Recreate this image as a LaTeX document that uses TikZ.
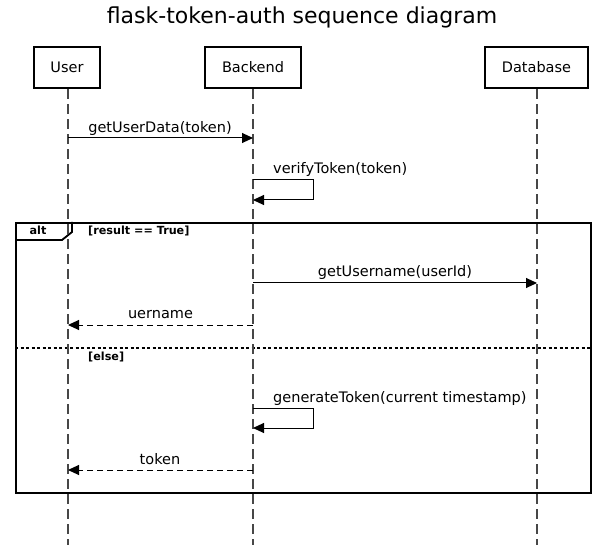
\documentclass[tikz,border=0pt]{standalone}
\usepackage{fontspec}
\setmainfont{DejaVu Sans}
\usetikzlibrary{arrows.meta}
\tikzset{
  lbl/.style={font=\fontsize{14.5}{17}\selectfont, inner sep=0pt, anchor=base},
  msg/.style={line width=1pt, -{Triangle[length=11pt,width=10pt]}},
  ret/.style={msg, dash pattern=on 6pt off 4pt},
  life/.style={line width=1.2pt, black!72, dash pattern=on 10pt off 5pt},
  part/.style={draw, line width=2.6pt, inner sep=0pt, minimum height=41pt,
    font=\fontsize{14.5}{17}\selectfont},
  guard/.style={font=\bfseries\fontsize{11.2}{13}\selectfont, inner sep=0pt, anchor=base west},
  frame/.style={draw, line width=2.2pt, inner sep=0pt, anchor=north west}
}
\begin{document}
\begin{tikzpicture}[x=1pt,y=-1pt]
\useasboundingbox (0,0) rectangle (605,545);
\node[font=\fontsize{22}{26}\selectfont, inner sep=0pt, anchor=base] (title) at (302,23.5) {flask-token-auth sequence diagram};

% lifeline end coordinates
\coordinate (ubot) at (68,545);
\coordinate (bbot) at (253,545);
\coordinate (dbot) at (537,545);

% alt frame
\node[frame, minimum width=575pt, minimum height=270pt] (alt) at (15,222) {};
\draw[line width=1.8pt] (15,240) -- (62,240) -- (72,232) -- (72,222);
\node[guard, anchor=base] (altlbl) at (38,235) {alt};
\node[guard] (g1) at (88,235) {[result == True]};
\coordinate (sepL) at (15,348);
\coordinate (sepR) at (590,348);
\draw[line width=2pt, dash pattern=on 3pt off 2.5pt] (sepL) -- (sepR);
\node[guard] (g2) at (88,360) {[else]};

% participants
\node[part, minimum width=66pt] (user) at (67,67.5) {User};
\node[part, minimum width=96pt] (backend) at (253,67.5) {Backend};
\node[part, minimum width=103pt] (database) at (536.5,67.5) {Database};

\draw[life] (user.south -| ubot) -- (ubot);
\draw[life] (backend.south -| bbot) -- (bbot);
\draw[life] (database.south -| dbot) -- (dbot);

% messages
\coordinate (m1a) at (68,138); \coordinate (m1b) at (253,138);
\draw[msg] (m1a) -- (m1b);
\node[lbl] (l1) at (160,132.5) {getUserData(token)};

\coordinate (m2a) at (253,180); \coordinate (m2b) at (253,200);
\draw[msg] (m2a) -- ++(60,0) |- (m2b);
\node[lbl, anchor=base west] (l2) at (273,174) {verifyToken(token)};

\coordinate (m3a) at (253,283); \coordinate (m3b) at (537,283);
\draw[msg] (m3a) -- (m3b);
\node[lbl] (l3) at (395,276.5) {getUsername(userId)};

\coordinate (m4a) at (253,325); \coordinate (m4b) at (68,325);
\draw[ret] (m4a) -- (m4b);
\node[lbl] (l4) at (160.5,319) {uername};

\coordinate (m5a) at (253,408); \coordinate (m5b) at (253,428);
\draw[msg] (m5a) -- ++(60,0) |- (m5b);
\node[lbl, anchor=base west] (l5) at (273,402) {generateToken(current timestamp)};

\coordinate (m6a) at (253,470); \coordinate (m6b) at (68,470);
\draw[ret] (m6a) -- (m6b);
\node[lbl] (l6) at (160,464) {token};
\end{tikzpicture}
\end{document}
